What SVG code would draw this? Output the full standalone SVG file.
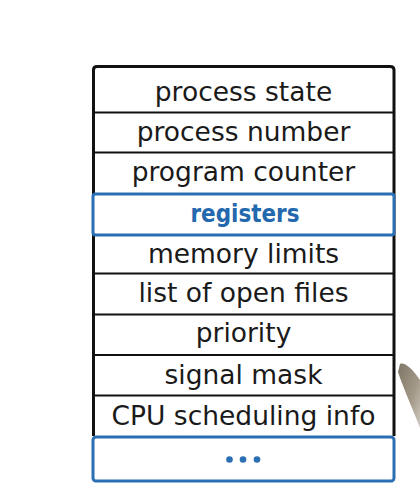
<svg xmlns="http://www.w3.org/2000/svg" width="420" height="488" viewBox="0 0 420 488">
<defs>
<linearGradient id="blob" x1="0" y1="0" x2="1" y2="1">
<stop offset="0" stop-color="#6f6655"/>
<stop offset="0.6" stop-color="#9a8f7c"/>
<stop offset="1" stop-color="#c9c3b8"/>
</linearGradient>
</defs>
<style>
.lbl{font-family:"DejaVu Sans","Liberation Sans",sans-serif;font-size:26.5px;fill:#1a1a1a;text-anchor:middle}
.blue{font-family:"DejaVu Sans","Liberation Sans",sans-serif;font-size:24px;font-weight:bold;fill:#2468ad;text-anchor:middle}
.div{stroke:#111;stroke-width:2.2}
.bbox{fill:#fff;stroke:#2a6fb3;stroke-width:3}
</style>
<rect width="420" height="488" fill="#fff"/>
<path d="M400,364 C404,362 412,368 420,380 L420,428 C414,412 404,390 398,372 Z" fill="url(#blob)" opacity="0.9"/>
<g id="outer">
<path d="M93.5,436 L93.5,70 Q93.5,66.5 97,66.5 L390,66.5 Q394,66.5 394,70 L394,436" fill="#fff" stroke="#111" stroke-width="3"/>
</g>
<g id="connectors">
<line class="div" x1="93" y1="112.5" x2="394" y2="112.5"/>
<line class="div" x1="93" y1="152.5" x2="394" y2="152.5"/>
<line class="div" x1="93" y1="273.5" x2="394" y2="273.5"/>
<line class="div" x1="93" y1="314.5" x2="394" y2="314.5"/>
<line class="div" x1="93" y1="355" x2="394" y2="355"/>
<line class="div" x1="93" y1="395.5" x2="394" y2="395.5"/>
</g>
<g id="process-state"><text class="lbl" x="243.5" y="101">process state</text></g>
<g id="process-number"><text class="lbl" x="243.5" y="140.5">process number</text></g>
<g id="program-counter"><text class="lbl" x="243.5" y="180.5">program counter</text></g>
<g id="registers">
<rect class="bbox" x="93" y="194" width="301" height="41" rx="2.5"/>
<text class="blue" x="245" y="221.5" textLength="109" lengthAdjust="spacingAndGlyphs">registers</text>
</g>
<g id="memory-limits"><text class="lbl" x="243.5" y="262.5">memory limits</text></g>
<g id="open-files"><text class="lbl" x="243.5" y="302">list of open files</text></g>
<g id="priority"><text class="lbl" x="243.5" y="341.5">priority</text></g>
<g id="signal-mask"><text class="lbl" x="243.5" y="384">signal mask</text></g>
<g id="cpu-scheduling"><text class="lbl" x="243.5" y="425">CPU scheduling info</text></g>
<g id="more">
<rect class="bbox" x="93" y="437" width="301" height="44" rx="3"/>
<circle cx="229.5" cy="459.5" r="3.3" fill="#2a6fb3"/>
<circle cx="243" cy="459.5" r="3.3" fill="#2a6fb3"/>
<circle cx="257" cy="459.5" r="3.3" fill="#2a6fb3"/>
</g>
</svg>
